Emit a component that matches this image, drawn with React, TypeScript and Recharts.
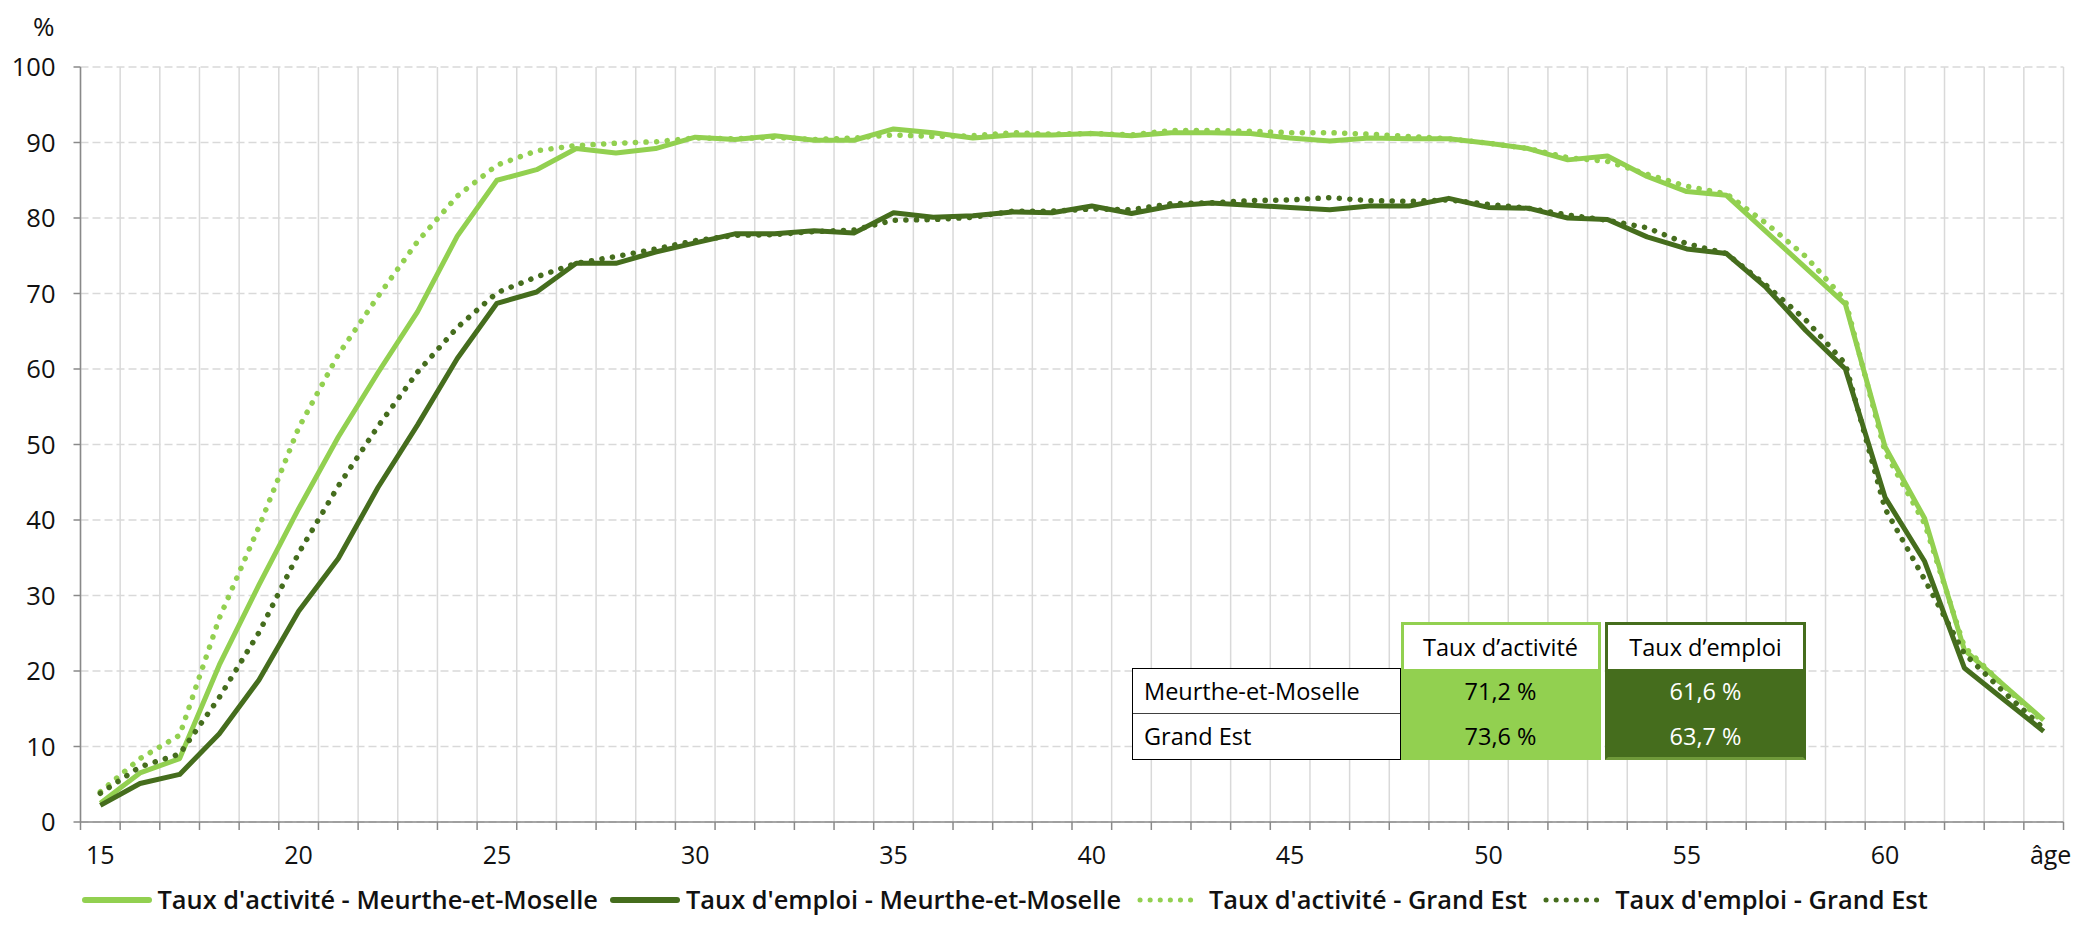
import React from 'react';
import { ComposedChart, Line, XAxis, YAxis, CartesianGrid, Legend } from 'recharts';

const ages = [15, 16, 17, 18, 19, 20, 21, 22, 23, 24, 25, 26, 27, 28, 29, 30, 31, 32, 33, 34, 35, 36, 37, 38, 39, 40, 41, 42, 43, 44, 45, 46, 47, 48, 49, 50, 51, 52, 53, 54, 55, 56, 57, 58, 59, 60, 61, 62, 63, 64];

const tauxActiviteMM = [2.5, 6.5, 8.4, 20.8, 31.4, 41.5, 51.0, 59.5, 67.6, 77.6, 85.0, 86.4, 89.2, 88.6, 89.2, 90.7, 90.4, 90.9, 90.3, 90.3, 91.8, 91.3, 90.6, 91.0, 91.0, 91.2, 90.9, 91.3, 91.3, 91.2, 90.6, 90.2, 90.6, 90.5, 90.5, 89.9, 89.2, 87.7, 88.2, 85.5, 83.5, 83.0, 78.2, 73.4, 68.6, 49.7, 40.2, 22.8, 18.1, 13.5];

const tauxEmploiMM = [2.2, 5.1, 6.3, 11.7, 18.8, 27.9, 34.9, 44.3, 52.6, 61.4, 68.7, 70.2, 74.0, 74.0, 75.5, 76.7, 77.9, 77.9, 78.3, 78.0, 80.7, 80.1, 80.3, 80.8, 80.7, 81.6, 80.6, 81.6, 82.0, 81.7, 81.4, 81.1, 81.6, 81.6, 82.6, 81.4, 81.3, 80.0, 79.8, 77.5, 75.9, 75.3, 70.8, 65.1, 60.0, 43.0, 34.5, 20.4, 16.2, 12.0];

const tauxActiviteGE = [4.0, 8.4, 11.5, 27.0, 39.1, 52.2, 61.9, 69.6, 76.9, 82.9, 87.0, 88.9, 89.6, 89.9, 90.1, 90.6, 90.5, 90.7, 90.4, 90.6, 91.0, 90.8, 90.9, 91.3, 91.1, 91.2, 91.0, 91.6, 91.6, 91.5, 91.3, 91.3, 91.1, 90.8, 90.5, 89.9, 89.2, 88.0, 87.5, 85.8, 84.2, 83.2, 79.3, 74.9, 69.1, 49.0, 39.5, 23.2, 18.0, 13.2];

const tauxEmploiGE = [3.8, 7.3, 9.0, 16.5, 25.1, 35.6, 44.5, 52.4, 59.6, 65.5, 70.1, 72.2, 74.0, 74.9, 75.9, 77.0, 77.7, 77.8, 78.2, 78.4, 79.7, 79.8, 80.1, 80.9, 80.9, 81.2, 81.1, 81.9, 82.0, 82.3, 82.4, 82.7, 82.3, 82.2, 82.4, 81.8, 81.3, 80.4, 79.7, 78.7, 76.6, 75.3, 71.1, 66.5, 60.7, 41.5, 32.1, 22.3, 17.2, 12.4];

const yTicks = [0, 10, 20, 30, 40, 50, 60, 70, 80, 90, 100];
const xLabelTicks = [15, 20, 25, 30, 35, 40, 45, 50, 55, 60, 64];
const lastTickLabel = 'âge';
const yUnit = '%';

const seriesNames = [
  "Taux d'activité - Meurthe-et-Moselle",
  "Taux d'emploi - Meurthe-et-Moselle",
  "Taux d'activité - Grand Est",
  "Taux d'emploi - Grand Est",
];

const tableRowLabels = ['Meurthe-et-Moselle', 'Grand Est'];
const tableHeaders = ['Taux d’activité', 'Taux d’emploi'];
const tableActivite = ['71,2 %', '73,6 %'];
const tableEmploi = ['61,6 %', '63,7 %'];

const LIGHT = '#92D050';
const DARK = '#456D1D';
const FONT = '"Open Sans", "Noto Sans", sans-serif';

const data = ages.map((age, i) => ({
  age,
  actMM: tauxActiviteMM[i],
  empMM: tauxEmploiMM[i],
  actGE: tauxActiviteGE[i],
  empGE: tauxEmploiGE[i],
}));

const boundaries = [ages[0] - 0.5, ...ages.map((a) => a + 0.5)];
const xTicks = [...boundaries, ...xLabelTicks].sort((a, b) => a - b);
const xDomain: [number, number] = [boundaries[0], boundaries[boundaries.length - 1]];

const XTick = (props: any) => {
  const { x, y, payload } = props;
  const v = payload.value;
  if (!Number.isInteger(v)) {
    return <line x1={x} x2={x} y1={y} y2={y + 8} stroke="#898989" strokeWidth={1.5} />;
  }
  const isLast = v === ages[ages.length - 1];
  return (
    <text x={x + (isLast ? 7 : 0)} y={y + 42} textAnchor="middle" fontSize={25} fontFamily={FONT} fill="#111">
      {isLast ? lastTickLabel : String(v)}
    </text>
  );
};

const legendItems = [
  { name: seriesNames[0], color: LIGHT, dotted: false },
  { name: seriesNames[1], color: DARK, dotted: false },
  { name: seriesNames[2], color: LIGHT, dotted: true },
  { name: seriesNames[3], color: DARK, dotted: true },
];

const renderLegend = () => (
  <div style={{ display: 'flex', alignItems: 'center', paddingLeft: 80, height: 53, fontFamily: FONT }}>
    {legendItems.map((it) => (
      <div key={it.name} style={{ display: 'flex', alignItems: 'center', marginRight: 11 }}>
        <svg width={72} height={12} style={{ marginRight: 5 }}>
          <line
            x1={it.dotted ? 8 : 4}
            x2={68}
            y1={7}
            y2={7}
            stroke={it.color}
            strokeWidth={it.dotted ? 5 : 6}
            strokeLinecap="round"
            strokeDasharray={it.dotted ? '0.1 10' : undefined}
          />
        </svg>
        <span style={{ fontSize: 25.4, fontWeight: 600, color: '#111', whiteSpace: 'nowrap' }}>{it.name}</span>
      </div>
    ))}
  </div>
);

const cellText: React.CSSProperties = { fontSize: 23.5, fontFamily: FONT, whiteSpace: 'nowrap' };

export default function App() {
  return (
    <div style={{ position: 'relative', width: 2078, height: 925, background: '#fff', fontFamily: FONT }}>
      <style>{'body{margin:0}'}</style>
      <ComposedChart
        width={2078}
        height={925}
        data={data}
        margin={{ top: 67, right: 14.5, left: 0.5, bottom: 0 }}
      >
        <CartesianGrid vertical={false} stroke="#d9d9d9" strokeWidth={1.5} strokeDasharray="8 4" />
        <CartesianGrid
          horizontal={false}
          stroke="#d9d9d9"
          strokeWidth={1.5}
          verticalCoordinatesGenerator={({ offset }: any) =>
            boundaries.map((b) => offset.left + ((b - xDomain[0]) / (xDomain[1] - xDomain[0])) * offset.width)
          }
        />
        <XAxis
          dataKey="age"
          type="number"
          domain={xDomain}
          ticks={xTicks}
          interval={0}
          tickSize={0}
          tickMargin={0}
          tickLine={false}
          axisLine={{ stroke: '#898989', strokeWidth: 1.5 }}
          tick={<XTick />}
          height={50}
          allowDataOverflow
        />
        <YAxis
          type="number"
          domain={[0, 100]}
          ticks={yTicks}
          interval={0}
          width={80}
          tickSize={7}
          tickMargin={18}
          axisLine={{ stroke: '#898989', strokeWidth: 1.5 }}
          tickLine={{ stroke: '#898989', strokeWidth: 1.5 }}
          tick={{ fontSize: 25.5, fill: '#111', fontFamily: FONT }}
        />
        <Legend verticalAlign="bottom" height={53} content={renderLegend} />
        <Line dataKey="actMM" name={seriesNames[0]} type="linear" stroke={LIGHT} strokeWidth={5} dot={false} activeDot={false} strokeLinejoin="round" isAnimationActive={false} />
        <Line dataKey="empMM" name={seriesNames[1]} type="linear" stroke={DARK} strokeWidth={5} dot={false} activeDot={false} strokeLinejoin="round" isAnimationActive={false} />
        <Line dataKey="actGE" name={seriesNames[2]} type="linear" stroke={LIGHT} strokeWidth={5.5} strokeDasharray="0.1 10.5" strokeLinecap="round" dot={false} activeDot={false} isAnimationActive={false} />
        <Line dataKey="empGE" name={seriesNames[3]} type="linear" stroke={DARK} strokeWidth={5.5} strokeDasharray="0.1 10.5" strokeLinecap="round" dot={false} activeDot={false} isAnimationActive={false} />
      </ComposedChart>

      <div style={{ position: 'absolute', left: 33, top: 8, fontSize: 26, color: '#111' }}>{yUnit}</div>

      {/* Inset table */}
      <div style={{ position: 'absolute', left: 1132, top: 668, width: 269, height: 91.5, boxSizing: 'border-box', border: '1.5px solid #000', background: '#fff' }}>
        {tableRowLabels.map((lab, i) => (
          <div
            key={lab}
            style={{
              ...cellText,
              height: i === 0 ? 45 : 43.5,
              boxSizing: 'border-box',
              borderBottom: i === 0 ? '1.5px solid #404040' : 'none',
              display: 'flex',
              alignItems: 'center',
              paddingLeft: 11,
              color: '#000',
            }}
          >
            {lab}
          </div>
        ))}
      </div>
      {[0, 1].map((c) => {
        const color = c === 0 ? LIGHT : DARK;
        const values = c === 0 ? tableActivite : tableEmploi;
        return (
          <div
            key={c}
            style={{
              position: 'absolute',
              left: c === 0 ? 1400.5 : 1605,
              top: 621.5,
              width: c === 0 ? 200 : 201,
              height: 138,
              boxSizing: 'border-box',
              border: `3px solid ${color}`,
              borderBottom: `3px solid ${c === 0 ? LIGHT : '#6f9a3a'}`,
              background: color,
            }}
          >
            <div style={{ ...cellText, height: 44, background: '#fff', display: 'flex', alignItems: 'center', justifyContent: 'center', color: '#000' }}>
              {tableHeaders[c]}
            </div>
            {values.map((v) => (
              <div key={v} style={{ ...cellText, height: 45, display: 'flex', alignItems: 'center', justifyContent: 'center', color: c === 0 ? '#000' : '#fff' }}>
                {v}
              </div>
            ))}
          </div>
        );
      })}
    </div>
  );
}
